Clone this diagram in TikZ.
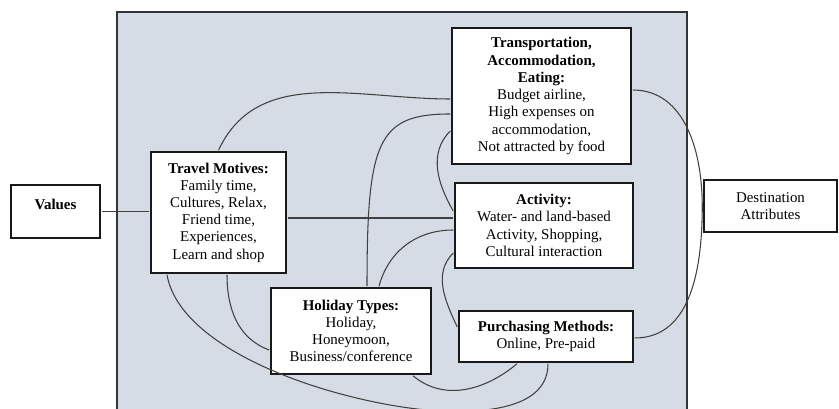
\documentclass[tikz,border=0pt]{standalone}
\usepackage{fontspec}
\setmainfont{Liberation Serif}
\usepackage{tikz}
\usetikzlibrary{backgrounds}
\definecolor{panel}{RGB}{214,220,229}
\tikzstyle{factor}=[rectangle, draw=black!90, fill=white, line width=1pt, align=center, inner sep=0pt, outer sep=1pt, font=\fontsize{8.5}{9.8}\selectfont]
\tikzstyle{link}=[draw=black!75, line width=0.6pt]

\begin{document}
\begin{tikzpicture}
\useasboundingbox (0,0) rectangle (16.78,-8.18);
%Boxes
\node[factor, minimum width=1.78cm, text height=0.5cm, text depth=0.56cm] (vals) at (1.11,-4.23){\textbf{Values}};
\node[factor, minimum width=2.70cm, minimum height=2.42cm] (mot) at (4.37,-4.25){\textbf{Travel Motives:}\\Family time,\\Cultures, Relax,\\Friend time,\\Experiences,\\Learn and shop};
\node[factor, minimum width=3.58cm, minimum height=2.72cm] (trans) at (10.83,-1.92){\textbf{Transportation,}\\\textbf{Accommodation,}\\\textbf{Eating:}\\Budget airline,\\High expenses on\\accommodation,\\Not attracted by food};
\node[factor, minimum width=3.56cm, minimum height=1.70cm] (act) at (10.88,-4.51){\textbf{Activity:}\\Water- and land-based\\Activity, Shopping,\\Cultural interaction};
\node[factor, minimum width=3.20cm, minimum height=1.72cm] (hol) at (7.02,-6.62){\textbf{Holiday Types:}\\Holiday,\\Honeymoon,\\Business/conference};
\node[factor, minimum width=3.48cm, minimum height=1.02cm] (purch) at (10.92,-6.73){\textbf{Purchasing Methods:}\\Online, Pre-paid};
\node[factor, minimum width=2.66cm, minimum height=1.04cm] (dest) at (15.41,-4.12){Destination\\Attributes};
\coordinate (dip) at (9.1,-8.23);

%Links
\draw[link] (vals.east) -- (vals.east -| mot.west);
\draw[link] (mot.north) to [out=65,in=180] ([yshift=-0.06cm]trans.west);
\draw[link] ([yshift=-0.36cm]trans.west) to [out=180,in=90,out distance=1.46cm,in distance=2.9cm] ([xshift=0.32cm]hol.north);
\draw[link] ([yshift=-0.11cm]mot.east) -- ([yshift=-0.11cm]mot.east -| act.west);
\draw[link] ([yshift=-0.7cm]trans.west) to [out=225,in=120] ([yshift=0.29cm]act.west);
\draw[link] ([yshift=-0.09cm]act.west) to [out=180,in=75] ([xshift=0.56cm]hol.north);
\draw[link] ([yshift=-0.55cm]act.west) to [out=225,in=115] ([yshift=0.19cm]purch.west);
\draw[link] ([xshift=0.17cm]mot.south) to [out=-90,in=160] ([yshift=-0.38cm]hol.west);
\draw[link] ([xshift=-1.03cm]mot.south) to [out=-80,in=180,looseness=0.7] (dip) to [out=0,in=-90] ([xshift=0.04cm]purch.south);
\draw[link] ([xshift=1.24cm]hol.south) to [out=-40,in=220] ([xshift=-0.58cm]purch.south);
\draw[link] ([yshift=0.12cm]trans.east) to [out=0,in=90] (dest.west) to [out=-90,in=0] ([yshift=-0.03cm]purch.east);

%background
\begin{scope}[on background layer]
\filldraw[fill=panel, draw=black!80, line width=1pt](2.34,-0.24) rectangle(13.74,-8.5);
\end{scope}

\end{tikzpicture}
\end{document}
